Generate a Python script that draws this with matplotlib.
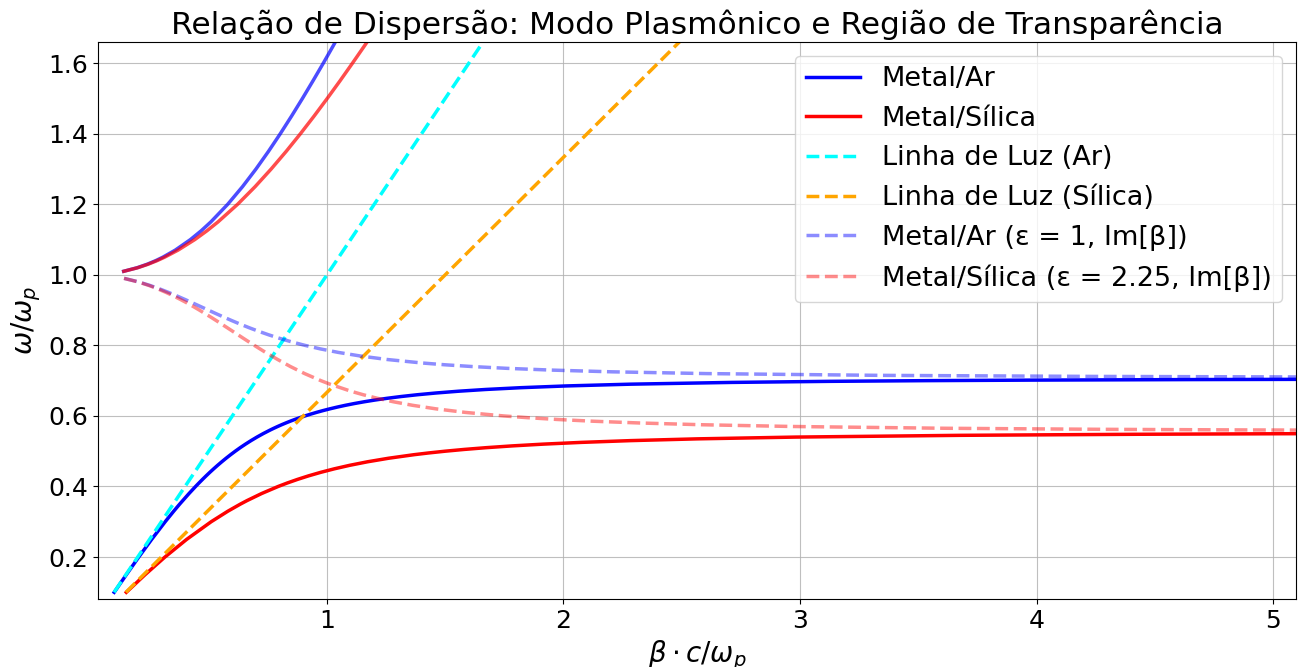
import matplotlib
matplotlib.use("Agg")
import matplotlib.pyplot as plt

# Lower (bound) branch, metal/air interface
w_ar_low = [0.10, 0.15, 0.20, 0.25, 0.30, 0.33, 0.35, 0.38, 0.40, 0.41, 0.42,
            0.43, 0.44, 0.45, 0.46, 0.47, 0.48, 0.49, 0.50, 0.51, 0.52, 0.53,
            0.54, 0.55, 0.56, 0.565, 0.57, 0.575, 0.58, 0.585, 0.59, 0.595,
            0.60, 0.605, 0.61, 0.615, 0.62, 0.625, 0.63, 0.635, 0.64, 0.645,
            0.65, 0.655, 0.66, 0.665, 0.67, 0.675, 0.68, 0.685, 0.69, 0.695,
            0.698, 0.70, 0.7015, 0.703, 0.704]
b_ar_low = [0.1005, 0.1518, 0.2043, 0.2588, 0.3160, 0.3522, 0.3773, 0.4168,
            0.4446, 0.4590, 0.4738, 0.4890, 0.5047, 0.5210, 0.5378, 0.5553,
            0.5735, 0.5925, 0.6124, 0.6333, 0.6555, 0.6790, 0.7040, 0.7309,
            0.7599, 0.7753, 0.7914, 0.8083, 0.8260, 0.8446, 0.8643, 0.8851,
            0.9071, 0.9306, 0.9557, 0.9827, 1.0117, 1.0432, 1.0774, 1.1150,
            1.1565, 1.2027, 1.2547, 1.3137, 1.3816, 1.4611, 1.5558, 1.6717,
            1.8181, 2.0115, 2.2843, 2.7122, 3.1244, 3.5347, 3.9778, 4.6462,
            5.340]

# Lower (bound) branch, metal/silica interface
w_si_low = [0.10, 0.15, 0.20, 0.25, 0.30, 0.33, 0.35, 0.36, 0.38, 0.40, 0.41,
            0.42, 0.43, 0.44, 0.45, 0.46, 0.47, 0.48, 0.49, 0.495, 0.50, 0.505,
            0.51, 0.515, 0.52, 0.525, 0.53, 0.535, 0.54, 0.545, 0.548, 0.5495,
            0.550]
b_si_low = [0.1517, 0.2311, 0.3151, 0.4068, 0.5104, 0.5813, 0.6339, 0.6622,
            0.7238, 0.7937, 0.8328, 0.8753, 0.9218, 0.9733, 1.0310, 1.0963,
            1.1717, 1.2603, 1.3670, 1.4296, 1.5000, 1.5803, 1.6732, 1.7824,
            1.9138, 2.0762, 2.2846, 2.5668, 2.9810, 3.6812, 4.4372, 5.0409,
            5.304]

# Upper branches (above the plasma frequency)
w_ar_up = [1.01, 1.02, 1.03, 1.04, 1.05, 1.07, 1.10, 1.125, 1.15, 1.20, 1.25,
           1.30, 1.35, 1.40, 1.45, 1.50, 1.55, 1.60, 1.65, 1.70, 1.80]
b_ar_up = [0.1404, 0.1972, 0.2400, 0.2755, 0.3062, 0.3586, 0.4230, 0.4686,
           0.5092, 0.5805, 0.6431, 0.7000, 0.7528, 0.8027, 0.8504, 0.8964,
           0.9410, 0.9846, 1.0271, 1.0690, 1.1508]
w_si_up = [1.01, 1.02, 1.03, 1.04, 1.05, 1.07, 1.10, 1.125, 1.15, 1.20, 1.25,
           1.30, 1.35, 1.40, 1.45, 1.50, 1.55, 1.60, 1.65, 1.70, 1.75, 1.80]
b_si_up = [0.1412, 0.1993, 0.2437, 0.2810, 0.3137, 0.3704, 0.4415, 0.4929,
           0.5394, 0.6224, 0.6964, 0.7642, 0.8277, 0.8879, 0.9456, 1.0012,
           1.0553, 1.1079, 1.1595, 1.2101, 1.2599, 1.3090]

# Imaginary part of beta inside the gap
w_ar_im = [0.99, 0.98, 0.97, 0.96, 0.95, 0.94, 0.93, 0.92, 0.91, 0.90, 0.89,
           0.88, 0.87, 0.86, 0.85, 0.84, 0.83, 0.82, 0.81, 0.80, 0.79, 0.78,
           0.77, 0.76, 0.75, 0.745, 0.74, 0.735, 0.73, 0.725, 0.72, 0.715,
           0.712, 0.7105]
b_ar_im = [0.1425, 0.2032, 0.2511, 0.2927, 0.3306, 0.3661, 0.4001, 0.4332,
           0.4658, 0.4982, 0.5309, 0.5642, 0.5984, 0.6340, 0.6712, 0.7108,
           0.7532, 0.7993, 0.8501, 0.9071, 0.9722, 1.0483, 1.1398, 1.2538,
           1.4031, 1.4981, 1.6132, 1.7571, 1.9450, 2.2057, 2.6047, 3.3362,
           4.2421, 5.0974]
w_si_im = [0.99, 0.98, 0.97, 0.96, 0.95, 0.94, 0.93, 0.92, 0.91, 0.90, 0.88,
           0.87, 0.86, 0.84, 0.82, 0.80, 0.78, 0.76, 0.74, 0.72, 0.70, 0.69,
           0.67, 0.66, 0.65, 0.64, 0.63, 0.62, 0.61, 0.60, 0.595, 0.59, 0.585,
           0.58, 0.575, 0.57, 0.565, 0.562, 0.5605, 0.5595]
b_si_im = [0.1417, 0.2009, 0.2466, 0.2855, 0.3200, 0.3516, 0.3810, 0.4088,
           0.4352, 0.4606, 0.5091, 0.5325, 0.5556, 0.6012, 0.6466, 0.6928,
           0.7406, 0.7915, 0.8455, 0.9057, 0.9742, 1.0126, 1.1013, 1.1536,
           1.2130, 1.2817, 1.3630, 1.4614, 1.5847, 1.7463, 1.8486, 1.9718,
           2.1244, 2.3202, 2.5848, 2.9706, 3.6119, 4.2839, 4.8023, 5.276]

# Light lines
w_light = [0.10, 2.00]
b_light_ar = [0.10, 2.00]
b_light_si = [0.15, 3.00]

fig = plt.figure(figsize=(13.03, 6.67), dpi=100)
ax = fig.add_axes([98 / 1303, 1 - 599 / 667, (1296 - 98) / 1303, (599 - 42) / 667])

lw = 2.5
ax.plot(b_ar_low, w_ar_low, color="blue", lw=lw, label="Metal/Ar")
ax.plot(b_si_low, w_si_low, color="red", lw=lw, label="Metal/Sílica")
ax.plot(b_ar_up, w_ar_up, color="blue", lw=lw, alpha=0.7)
ax.plot(b_si_up, w_si_up, color="red", lw=lw, alpha=0.7)
ax.plot(b_light_ar, w_light, color="cyan", lw=lw, ls="--", label="Linha de Luz (Ar)")
ax.plot(b_light_si, w_light, color="orange", lw=lw, ls="--", label="Linha de Luz (Sílica)")
ax.plot(b_ar_im, w_ar_im, color="blue", lw=lw, ls="--", alpha=0.45,
        label="Metal/Ar (ε = 1, Im[β])")
ax.plot(b_si_im, w_si_im, color="red", lw=lw, ls="--", alpha=0.45,
        label="Metal/Sílica (ε = 2.25, Im[β])")

ax.set_xlim(0.032, 5.097)
ax.set_ylim(0.081, 1.66)
ax.set_xticks([1, 2, 3, 4, 5])
ax.set_yticks([0.2, 0.4, 0.6, 0.8, 1.0, 1.2, 1.4, 1.6])
ax.tick_params(labelsize=18)
ax.grid(True, color="#b0b0b0", alpha=0.8, lw=0.8)

ax.set_title("Relação de Dispersão: Modo Plasmônico e Região de Transparência", fontsize=22.5)
ax.set_xlabel(r"$\beta \cdot c/\omega_p$", fontsize=20)
ax.set_ylabel(r"$\omega/\omega_p$", fontsize=20)
ax.legend(loc="upper right", fontsize=19.5)

fig.savefig("out.png", dpi=100)
